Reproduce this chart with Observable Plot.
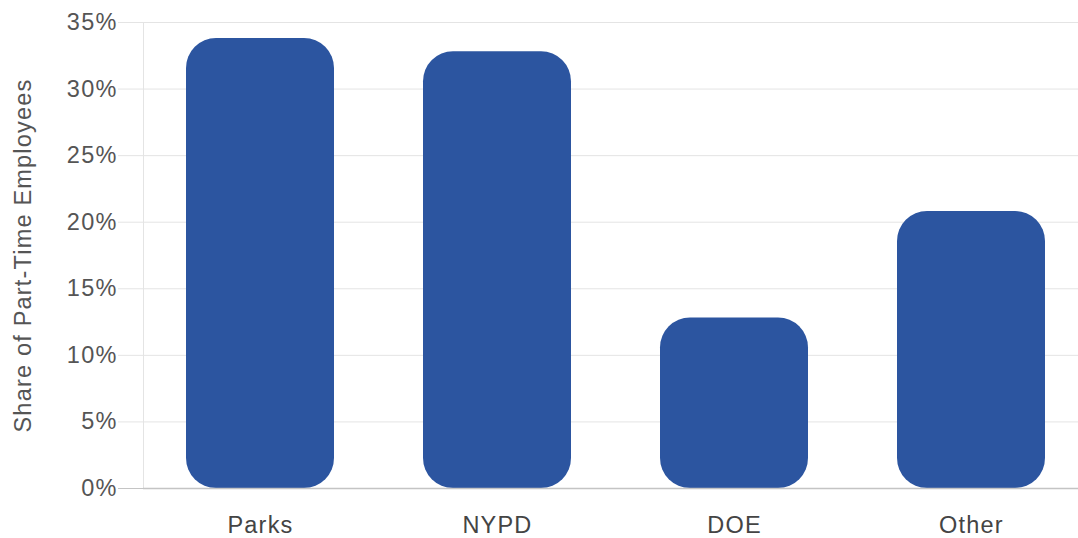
<!DOCTYPE html>
<html>
<head>
<meta charset="utf-8">
<script src="https://cdn.jsdelivr.net/npm/d3@7"></script>
<script src="https://cdn.jsdelivr.net/npm/@observablehq/plot@0.6"></script>
<style>
  html, body { margin: 0; padding: 0; background: #fff; }
  #chart svg { display: block; }
</style>
</head>
<body>
<div id="chart"></div>
<script>
const categories = ["Parks", "NYPD", "DOE", "Other"];
const shares = [33.8, 32.8, 12.8, 20.8];
const yTicks = [0, 5, 10, 15, 20, 25, 30, 35];
const yLabel = "Share of Part-Time Employees";

const data = categories.map((c, i) => ({category: c, share: shares[i]}));

const chart = Plot.plot({
  width: 1078,
  height: 538,
  marginLeft: 143,
  marginRight: 0,
  marginTop: 22,
  marginBottom: 50,
  style: {fontFamily: "'Liberation Sans', Arial, sans-serif", fontSize: "23.5px", color: "#555", background: "#fff", letterSpacing: "1.2px", overflow: "hidden"},
  x: {domain: categories, range: [140, 1090], paddingInner: 0.377, paddingOuter: 0.1885, label: null},
  y: {domain: [0, 35], label: null},
  marks: [
    Plot.gridY(yTicks, {stroke: "#e4e4e4", strokeOpacity: 1}),
    Plot.frame({anchor: "left", stroke: "#e4e4e4"}),
    Plot.axisY(yTicks, {
      tickSize: 25, tickPadding: 1,
      stroke: d => d === 0 ? "#c4c4c4" : "#e4e4e4",
      tickFormat: d => d + "%",
      fontSize: 23.5, fill: "#555",
      label: yLabel, labelAnchor: "center", labelArrow: "none", labelOffset: 129
    }),
    Plot.barY(data, {x: "category", y: "share", fill: "#2c55a0", rx: 30, ry: 30}),
    Plot.ruleY([0], {stroke: "#c4c4c4", strokeWidth: 1.5}),
    Plot.axisX({tickSize: 0, tickPadding: 28, fontSize: 23.5, fill: "#444", label: null})
  ]
});
document.getElementById("chart").appendChild(chart);
</script>
</body>
</html>
